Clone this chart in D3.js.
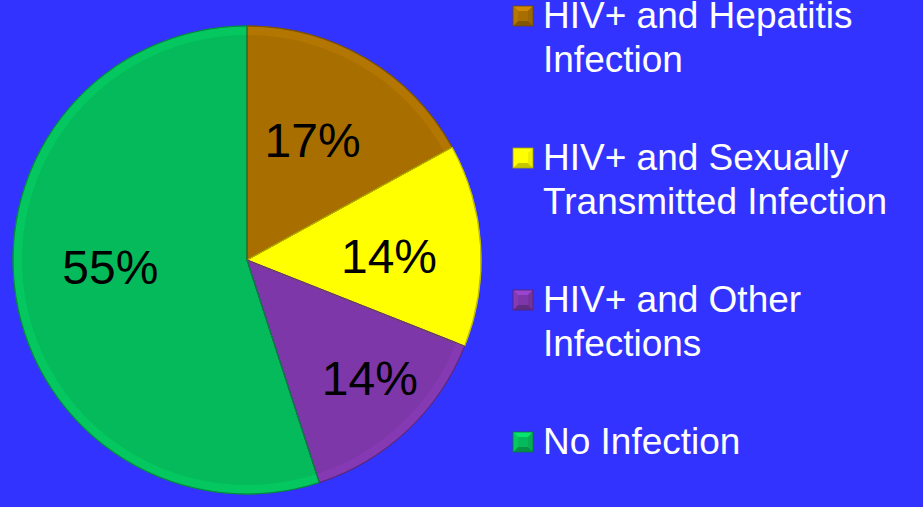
<!DOCTYPE html>
<html>
<head>
<meta charset="utf-8">
<script src="https://cdn.jsdelivr.net/npm/d3@7"></script>
<style>
  html, body { margin: 0; padding: 0; background: #3333ff; }
  svg { display: block; }
  text { font-family: "Liberation Sans", Arial, sans-serif; }
</style>
</head>
<body>
<svg id="chart" width="923" height="507"></svg>
<script>
// data
var categories = ['HIV+ and Hepatitis Infection', 'HIV+ and Sexually Transmitted Infection', 'HIV+ and Other Infections', 'No Infection'];
var legendLines = [['HIV+ and Hepatitis', 'Infection'], ['HIV+ and Sexually', 'Transmitted Infection'], ['HIV+ and Other', 'Infections'], ['No Infection']];
var values = [17, 14, 14, 55];
var colors = ['#a86f00', '#ffff00', '#7d37a8', '#05ba5a'];

var width = 923, height = 507;
var cx = 247, cy = 260, radius = 234;
// label placement: share of radius and angle shift (degrees) from slice middle
var labelRadius = [0.585, 0.607, 0.727, 0.585];
var labelShift = [-2, 2, -3, 6];

var svg = d3.select('#chart');

var slices = categories.map(function(c, i){
  return {name: c, value: values[i], color: colors[i], lr: labelRadius[i], ls: labelShift[i]};
});

var pie = d3.pie()
    .sort(null)
    .value(function(d){return d.value;});

var arc = d3.arc()
    .innerRadius(0)
    .outerRadius(radius);

var rim = d3.arc()
    .innerRadius(radius - 9)
    .outerRadius(radius);

var g = svg.append('g')
    .attr('transform', 'translate(' + cx + ',' + cy + ')');

var arcs = pie(slices);

g.selectAll('path.slice')
    .data(arcs)
    .enter().append('path')
    .attr('class', 'slice')
    .attr('d', arc)
    .attr('fill', function(d){return d.data.color;})
    .attr('stroke', function(d){return d3.color(d.data.color).darker(0.8);})
    .attr('stroke-width', 1.2)
    .attr('stroke-linejoin', 'round');

// light bevel along the rim
g.selectAll('path.rim')
    .data(arcs)
    .enter().append('path')
    .attr('class', 'rim')
    .attr('d', rim)
    .attr('fill', function(d){return d3.color(d.data.color).brighter(0.35);})
    .attr('opacity', 0.5);

g.selectAll('path.edge')
    .data(arcs)
    .enter().append('path')
    .attr('class', 'edge')
    .attr('d', arc)
    .attr('fill', 'none')
    .attr('stroke', function(d){return d3.color(d.data.color).darker(0.9);})
    .attr('stroke-width', 1);

g.selectAll('text.pct')
    .data(arcs)
    .enter().append('text')
    .attr('class', 'pct')
    .attr('transform', function(d){
      var r = radius * d.data.lr;
      var a = (d.startAngle + d.endAngle) / 2 + d.data.ls * Math.PI / 180;
      return 'translate(' + (r * Math.sin(a)) + ',' + (-r * Math.cos(a)) + ')';
    })
    .attr('text-anchor', 'middle')
    .attr('dy', '0.36em')
    .attr('font-size', 48)
    .attr('fill', '#000')
    .text(function(d){return d.data.value + '%';});

// legend
var legendY = d3.scaleBand()
    .domain(categories)
    .range([0, 568]);

var legend = svg.append('g')
    .attr('transform', 'translate(513,28)');

var item = legend.selectAll('g.item')
    .data(slices)
    .enter().append('g')
    .attr('class', 'item')
    .attr('transform', function(d){return 'translate(0,' + legendY(d.name) + ')';});

// bevelled marker: four triangles in different shades
var s = 20, b = 5;
var faces = [
  {pts: [[0,0],[s,0],[s-b,b],[b,b]], k: 0.6},
  {pts: [[s,0],[s,s],[s-b,s-b],[s-b,b]], k: -0.2},
  {pts: [[s,s],[0,s],[b,s-b],[s-b,s-b]], k: -0.7},
  {pts: [[0,s],[0,0],[b,b],[b,s-b]], k: 0.2}
];

var marker = item.append('g')
    .attr('transform', 'translate(0,-22)');

marker.append('rect')
    .attr('width', s).attr('height', s)
    .attr('fill', function(d){return d.color;});

marker.selectAll('polygon')
    .data(function(d){return faces.map(function(f){return {f: f, color: d.color};});})
    .enter().append('polygon')
    .attr('points', function(d){return d.f.pts.join(' ');})
    .attr('fill', function(d){
      var c = d3.color(d.color);
      return d.f.k > 0 ? c.brighter(d.f.k) : c.darker(-d.f.k);
    });

marker.append('rect')
    .attr('width', s).attr('height', s)
    .attr('fill', 'none')
    .attr('stroke', function(d){return d3.color(d.color).darker(1.2);})
    .attr('stroke-width', 0.8);

item.append('text')
    .attr('x', 30)
    .attr('font-size', 37)
    .attr('fill', '#fff')
    .selectAll('tspan')
    .data(function(d, i){return legendLines[i];})
    .enter().append('tspan')
    .attr('x', 30)
    .attr('dy', function(d, i){return i === 0 ? 0 : 44;})
    .text(function(d){return d;});
</script>
</body>
</html>
